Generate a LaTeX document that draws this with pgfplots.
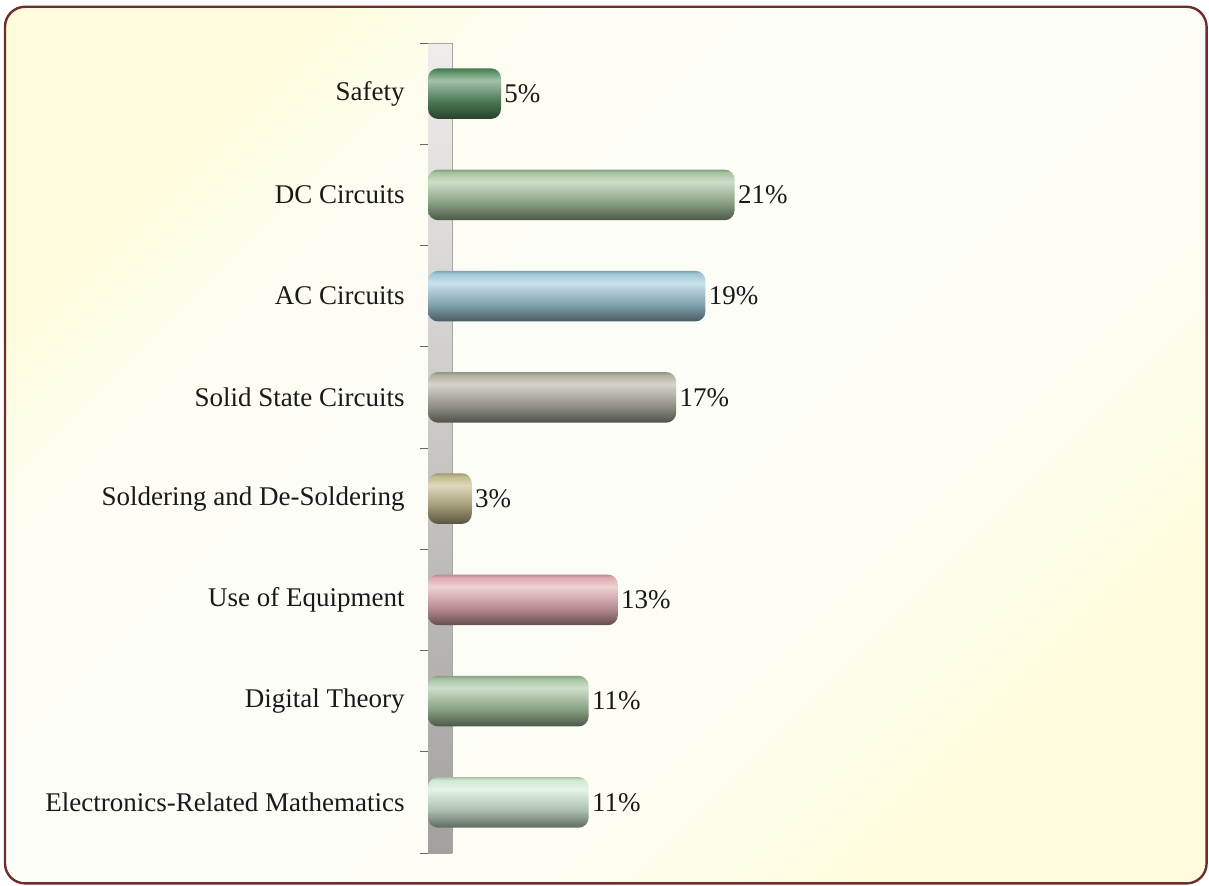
\documentclass[border=0pt]{standalone}
\usepackage{pgfplots}
\pgfplotsset{compat=1.18}
\usepackage{fontspec}
\setmainfont{Liberation Serif}

\definecolor{frameC}{HTML}{6E2C2C}
\definecolor{bgIn}{HTML}{FDFDF8}
\definecolor{bgMid}{HTML}{FEFDF0}
\definecolor{bgOut}{HTML}{FFFCDB}
\definecolor{wallTop}{HTML}{EEEDEA}
\definecolor{wallMid}{HTML}{ABA699}
\definecolor{wallBot}{HTML}{A2A1A0}

\pgfdeclareverticalshading{bgshade}{100bp}{color(0bp)=(bgOut); color(25bp)=(bgOut); color(36bp)=(bgMid); color(46bp)=(bgIn); color(58bp)=(bgIn); color(68bp)=(bgMid); color(75bp)=(bgOut); color(100bp)=(bgOut)}

\newcommand\cyl[2]{%
  \definecolor{#1B}{HTML}{#2}%
  \colorlet{#1D}{#1B!45!black}%
  \colorlet{#1M}{#1B!82!black}%
  \colorlet{#1L}{#1B!55!white}%
  \pgfdeclareverticalshading{#1}{100bp}{color(0bp)=(#1D); color(25bp)=(#1D); color(42bp)=(#1M); color(63bp)=(#1L); color(72bp)=(#1B); color(75bp)=(#1M); color(100bp)=(#1M)}%
}
\cyl{cA}{5A9064}
\cyl{cB}{A6C39E}
\cyl{cC}{9FC8D8}
\cyl{cD}{B4B0A2}
\cyl{cE}{C2BA8C}
\cyl{cF}{E0ABB0}
\cyl{cG}{A6C4A0}
\cyl{cH}{D0EAD2}

\newcommand\lblfont{\fontsize{13.5}{16}\selectfont}

\begin{document}
\begin{tikzpicture}
\path[use as bounding box] (0,0) rectangle (604.5pt,443pt);
\shadedraw[draw=frameC, line width=1.2pt, rounded corners=10pt, shading=bgshade, shading angle=45]
  (2.5pt,1.3pt) rectangle (603.3pt,439.6pt);
\begin{axis}[
  at={(214pt,16.5pt)}, anchor=south west,
  scale only axis, width=376pt, height=405pt,
  xmin=0, xmax=51.5, ymin=-0.5, ymax=7.5, y dir=reverse,
  hide x axis,
  axis y line*=left,
  y axis line style={draw=gray!75, line width=0.5pt},
  ytick={0,...,7},
  yticklabels={Safety, DC Circuits, AC Circuits, Solid State Circuits, Soldering and De-Soldering, Use of Equipment, Digital Theory, Electronics-Related Mathematics},
  major tick length=0pt,
  minor ytick={-0.5,0.5,...,7.5},
  minor tick length=4pt,
  tick align=outside,
  tick style={draw=gray!80!black, line width=0.5pt},
  yticklabel style={font=\lblfont, text=black!90, inner sep=0pt, xshift=-11.5pt},
  bar width=0.5, bar shift=0pt,
  /pgf/number format/assume math mode=true,
  nodes near coords={\pgfmathprintnumber{\pgfplotspointmeta}\%},
  point meta=x,
  nodes near coords style={font=\lblfont, text=black!90, inner sep=1.5pt, anchor=west},
  clip=false,
]
\fill[top color=wallTop, middle color=wallMid, bottom color=wallBot] (axis cs:0,-0.5) rectangle (axis cs:1.644,7.5);
\draw[gray!70, line width=0.5pt] (axis cs:0,-0.5) -- (axis cs:1.644,-0.5) -- (axis cs:1.644,7.5);
\addplot[xbar, draw=none, shading=cA, rounded corners=5pt] coordinates {(5,0)};
\addplot[xbar, draw=none, shading=cB, rounded corners=5pt] coordinates {(21,1)};
\addplot[xbar, draw=none, shading=cC, rounded corners=5pt] coordinates {(19,2)};
\addplot[xbar, draw=none, shading=cD, rounded corners=5pt] coordinates {(17,3)};
\addplot[xbar, draw=none, shading=cE, rounded corners=5pt] coordinates {(3,4)};
\addplot[xbar, draw=none, shading=cF, rounded corners=5pt] coordinates {(13,5)};
\addplot[xbar, draw=none, shading=cG, rounded corners=5pt] coordinates {(11,6)};
\addplot[xbar, draw=none, shading=cH, rounded corners=5pt] coordinates {(11,7)};
\end{axis}
\end{tikzpicture}
\end{document}
